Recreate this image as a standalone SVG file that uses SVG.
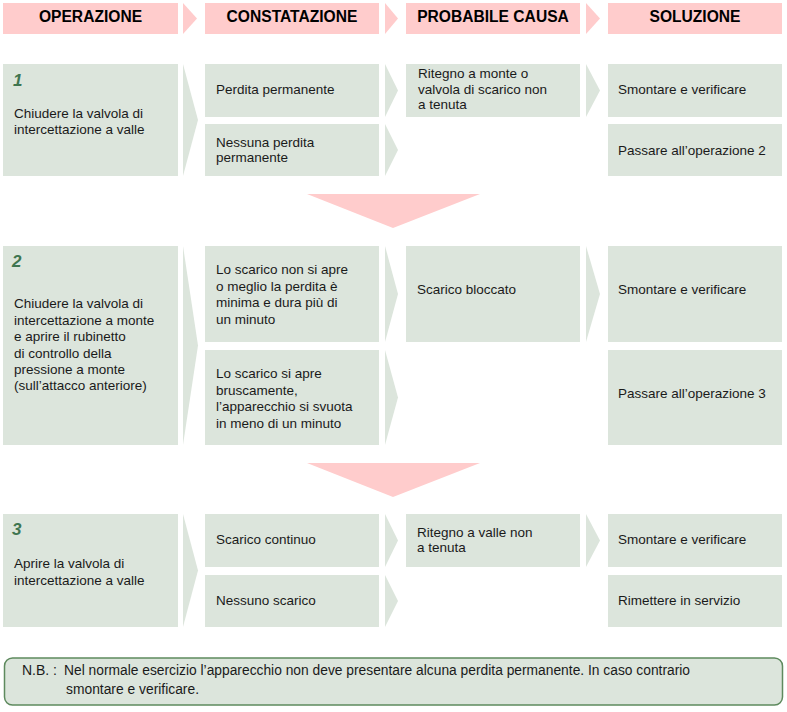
<svg xmlns="http://www.w3.org/2000/svg" width="787" height="712" viewBox="0 0 787 712">
<style>
.hd{fill:#ffcccc}
.bx{fill:#dce5dc}
.chh{fill:#ffcccc}
.ch{fill:#dce5dc}
.dn{fill:#ffcccc}
text{font-family:"Liberation Sans",Arial,Helvetica,sans-serif;fill:#1a1a1a}
.ht{font-size:15.6px;font-weight:bold;text-anchor:middle;fill:#000}
.t{font-size:13.5px}
.num{font-size:17px;font-weight:bold;font-style:italic;fill:#3f7550}
.nb{font-size:14px}
</style>
<rect width="787" height="712" fill="#fff"/>

<!-- header -->
<g id="h-operazione"><rect class="hd" x="3" y="3" width="175" height="31"/><text class="ht" x="90.5" y="21.5">OPERAZIONE</text></g>
<g id="h-constatazione"><rect class="hd" x="205" y="3" width="174" height="31"/><text class="ht" x="292" y="21.5">CONSTATAZIONE</text></g>
<g id="h-causa"><rect class="hd" x="406" y="3" width="174" height="31"/><text class="ht" x="493" y="21.5">PROBABILE CAUSA</text></g>
<g id="h-soluzione"><rect class="hd" x="608" y="3" width="174" height="31"/><text class="ht" x="695" y="21.5">SOLUZIONE</text></g>

<!-- section 1 -->
<g id="op1"><rect class="bx" x="3" y="64" width="175" height="112"/>
<text class="num" x="13" y="86">1</text>
<text class="t" x="14" y="118">Chiudere la valvola di</text>
<text class="t" x="14" y="134">intercettazione a valle</text></g>
<g id="c1a"><rect class="bx" x="205" y="64" width="174" height="53"/><text class="t" x="216" y="94">Perdita permanente</text></g>
<g id="c1b"><rect class="bx" x="205" y="124" width="174" height="52"/><text class="t" x="216" y="147">Nessuna perdita</text><text class="t" x="216" y="162">permanente</text></g>
<g id="p1a"><rect class="bx" x="406" y="64" width="174" height="53"/><text class="t" x="418" y="78">Ritegno a monte o</text><text class="t" x="418" y="93.5">valvola di scarico non</text><text class="t" x="418" y="109">a tenuta</text></g>
<g id="s1a"><rect class="bx" x="608" y="64" width="174" height="53"/><text class="t" x="618" y="94">Smontare e verificare</text></g>
<g id="s1b"><rect class="bx" x="608" y="124" width="174" height="52"/><text class="t" x="618" y="155">Passare all’operazione 2</text></g>

<!-- section 2 -->
<g id="op2"><rect class="bx" x="3" y="246" width="175" height="199"/>
<text class="num" x="12" y="267">2</text>
<text class="t" x="14" y="308">Chiudere la valvola di</text>
<text class="t" x="14" y="325">intercettazione a monte</text>
<text class="t" x="14" y="341">e aprire il rubinetto</text>
<text class="t" x="14" y="358">di controllo della</text>
<text class="t" x="14" y="374">pressione a monte</text>
<text class="t" x="14" y="390">(sull’attacco anteriore)</text></g>
<g id="c2a"><rect class="bx" x="205" y="246" width="174" height="96"/>
<text class="t" x="216" y="274">Lo scarico non si apre</text>
<text class="t" x="216" y="291">o meglio la perdita è</text>
<text class="t" x="216" y="307">minima e dura più di</text>
<text class="t" x="216" y="324">un minuto</text></g>
<g id="c2b"><rect class="bx" x="205" y="350" width="174" height="95"/>
<text class="t" x="216" y="378">Lo scarico si apre</text>
<text class="t" x="216" y="395">bruscamente,</text>
<text class="t" x="216" y="411">l’apparecchio si svuota</text>
<text class="t" x="216" y="428">in meno di un minuto</text></g>
<g id="p2a"><rect class="bx" x="406" y="246" width="174" height="96"/><text class="t" x="417" y="294">Scarico bloccato</text></g>
<g id="s2a"><rect class="bx" x="608" y="246" width="174" height="96"/><text class="t" x="618" y="294">Smontare e verificare</text></g>
<g id="s2b"><rect class="bx" x="608" y="350" width="174" height="95"/><text class="t" x="618" y="398">Passare all’operazione 3</text></g>

<!-- section 3 -->
<g id="op3"><rect class="bx" x="3" y="514" width="175" height="113"/>
<text class="num" x="12" y="535">3</text>
<text class="t" x="14" y="568">Aprire la valvola di</text>
<text class="t" x="14" y="585">intercettazione a valle</text></g>
<g id="c3a"><rect class="bx" x="205" y="514" width="174" height="53"/><text class="t" x="216" y="544">Scarico continuo</text></g>
<g id="c3b"><rect class="bx" x="205" y="575" width="174" height="52"/><text class="t" x="216" y="605">Nessuno scarico</text></g>
<g id="p3a"><rect class="bx" x="406" y="514" width="174" height="53"/><text class="t" x="417" y="537">Ritegno a valle non</text><text class="t" x="417" y="552">a tenuta</text></g>
<g id="s3a"><rect class="bx" x="608" y="514" width="174" height="53"/><text class="t" x="618" y="544">Smontare e verificare</text></g>
<g id="s3b"><rect class="bx" x="608" y="575" width="174" height="52"/><text class="t" x="618" y="605">Rimettere in servizio</text></g>

<!-- connectors -->
<g id="connectors">
<polygon class="chh" points="183,3 197,18.5 183,34"/>
<polygon class="chh" points="385,3 398,18.5 385,34"/>
<polygon class="chh" points="586,3 600,18.5 586,34"/>

<polygon class="ch" points="183,64 198,120 183,176"/>
<polygon class="ch" points="385,64 398,90.5 385,117"/>
<polygon class="ch" points="385,124 398,150 385,176"/>
<polygon class="ch" points="586,64 600,90.5 586,117"/>

<polygon class="dn" points="307,194 480,194 393,228"/>

<polygon class="ch" points="183,246 198,345.5 183,445"/>
<polygon class="ch" points="385,246 398,294 385,342"/>
<polygon class="ch" points="385,350 398,397.5 385,445"/>
<polygon class="ch" points="586,246 600,294 586,342"/>

<polygon class="dn" points="307,463 480,463 393,497"/>

<polygon class="ch" points="183,514 198,570.5 183,627"/>
<polygon class="ch" points="385,514 398,540.5 385,567"/>
<polygon class="ch" points="385,575 398,601 385,627"/>
<polygon class="ch" points="586,514 600,540.5 586,567"/>
</g>

<!-- note -->
<g id="note">
<rect x="4.5" y="658" width="778" height="47" rx="8" fill="#dce5dc" stroke="#5e8a5e" stroke-width="1.5"/>
<text class="nb" x="22" y="675">N.B. :</text>
<text class="nb" x="64" y="675" textLength="626" lengthAdjust="spacingAndGlyphs">Nel normale esercizio l’apparecchio non deve presentare alcuna perdita permanente. In caso contrario</text>
<text class="nb" x="66" y="694" textLength="133" lengthAdjust="spacingAndGlyphs">smontare e verificare.</text>
</g>
</svg>
